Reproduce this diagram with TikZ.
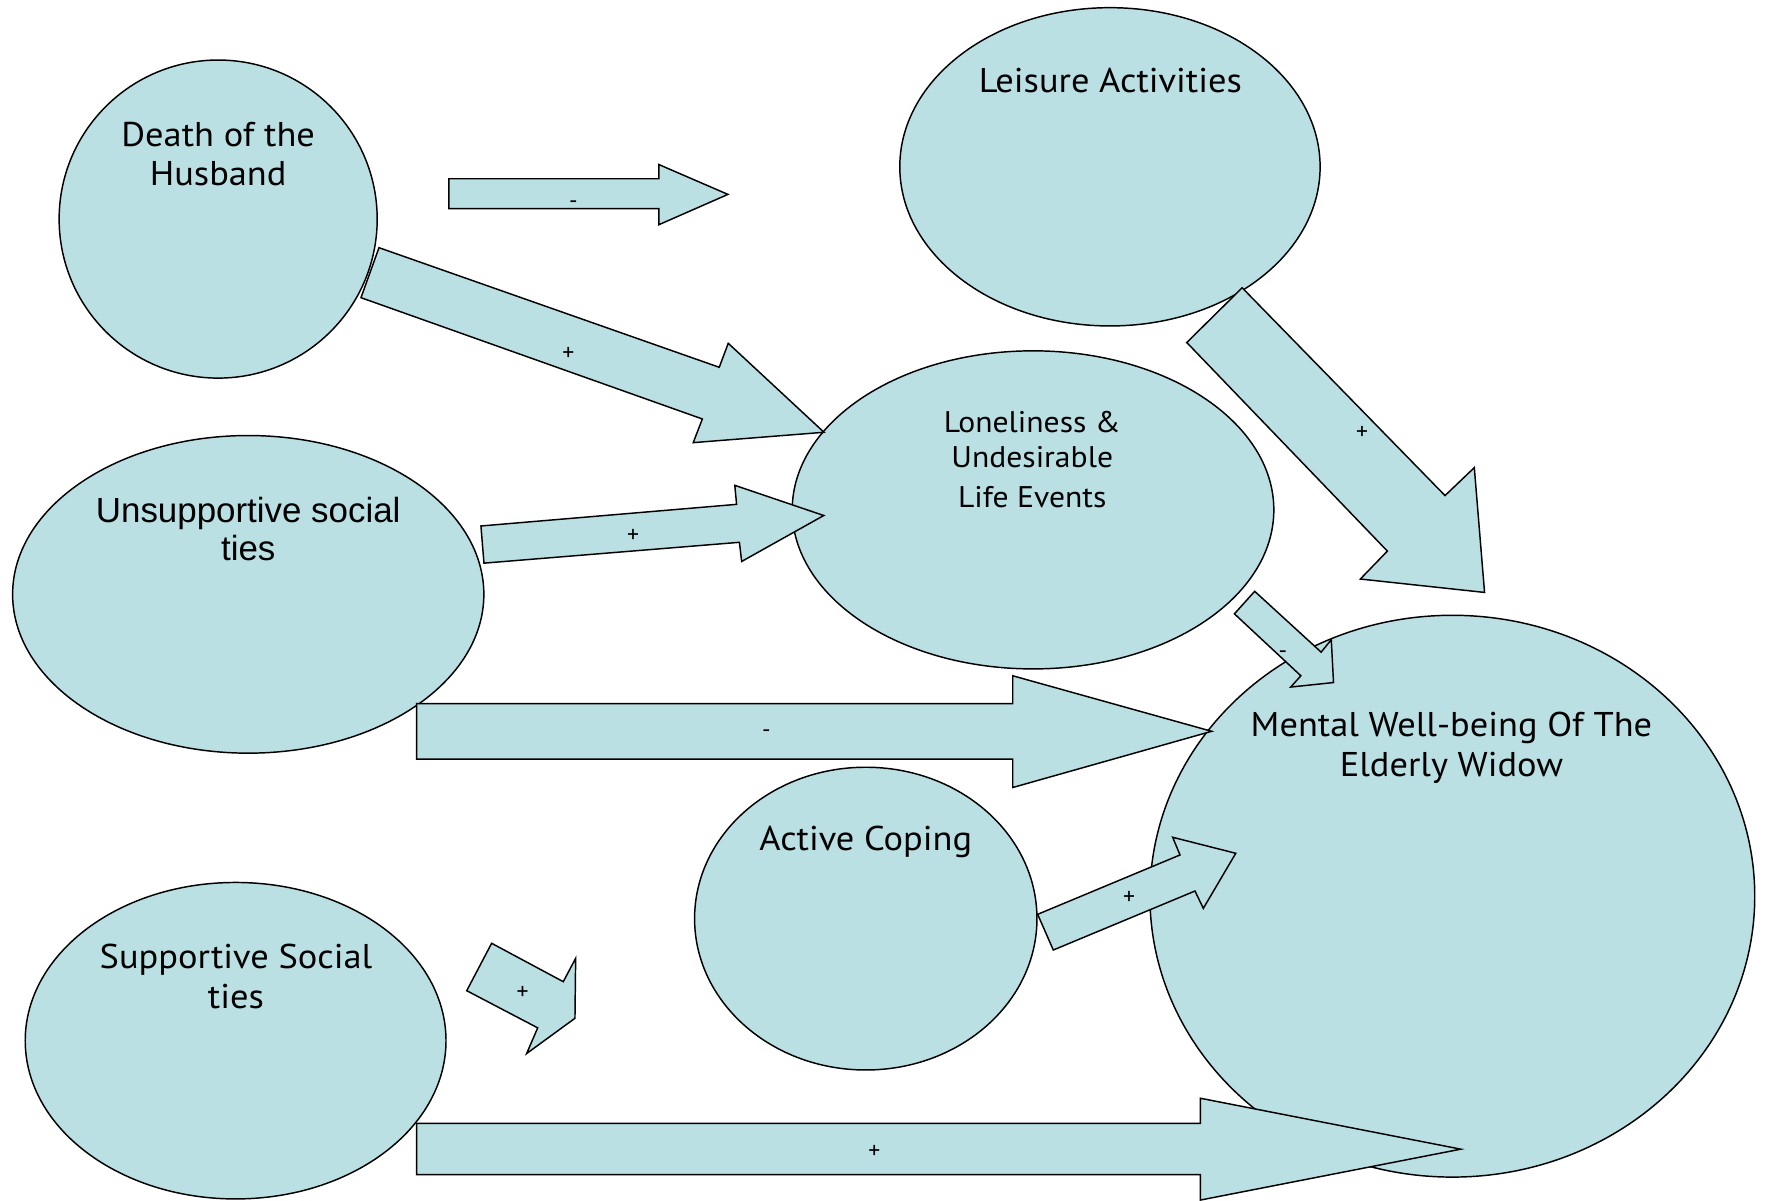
\documentclass[tikz,border=0pt]{standalone}
\usepackage{fontspec}
\usetikzlibrary{shapes.geometric}
\newfontfamily\mainf[FakeStretch=1.06]{PT Sans}
\newfontfamily\signf{PT Sans}
\newfontfamily\arialf{Liberation Sans}
\definecolor{bubblefill}{RGB}{186,224,227}
\tikzset{
  bubble/.style={ellipse, draw=black, fill=bubblefill, line width=1.3pt, inner sep=0pt},
  blockarrow/.style={draw=black, fill=bubblefill, line width=1.3pt, line join=miter},
  lbl/.style={font=\mainf\fontsize{30.5}{36}\selectfont, align=center, inner sep=0pt, anchor=base},
  sign/.style={font=\signf\fontsize{21}{22}\selectfont, inner sep=0pt, anchor=base},
}
\begin{document}
\begin{tikzpicture}[x=1pt,y=-1pt]
\useasboundingbox (0,0) rectangle (1568,1066.3);
% ---------- ellipses ----------
\node[bubble, minimum width=282.4pt, minimum height=282.4pt] (death) at (193.7,194.5) {};
\node[bubble, minimum width=373.2pt, minimum height=282.6pt] (leisure) at (985.5,148.1) {};
\node[bubble, minimum width=418.4pt, minimum height=282pt] (unsup) at (220.4,527.7) {};
\node[bubble, minimum width=427.6pt, minimum height=282.4pt] (lonely) at (917.2,452.7) {};
\node[bubble, minimum width=304pt, minimum height=268.8pt] (coping) at (768.7,815.6) {};
\node[bubble, minimum width=373.6pt, minimum height=281pt] (sup) at (209.2,924) {};
\node[bubble, minimum width=537pt, minimum height=498.8pt] (mental) at (1289.5,795.7) {};
% ---------- texts (base = last line's baseline) ----------
\node[lbl, font=\mainf\fontsize{30.5}{35}\selectfont] (deathT) at (193.7,164.8) {Death of the\\Husband};
\node[lbl] (leisureT) at (985.8,82.2) {Leisure Activities};
\node[lbl, font=\arialf\fontsize{31}{34}\selectfont] (unsupT) at (220.4,497.8) {Unsupportive social\\ties};
\node[lbl, font=\mainf\fontsize{26.5}{31}\selectfont] (lonelyT) at (916.5,450.2) {Loneliness \&\\Undesirable\\[4pt]Life Events};
\node[lbl] (copingT) at (768.7,755.3) {Active Coping};
\node[lbl] (supT) at (209.5,895.6) {Supportive Social\\ties};
\node[lbl, font=\mainf\fontsize{30.5}{35.7}\selectfont] (mentalT) at (1288.7,689.7) {Mental Well-being Of The\\Elderly Widow};
% ---------- block arrows ----------
% Death -> (free), "-"
\draw[blockarrow] (398.6,158.7) -- (585,158.7) -- (585,146.1) -- (646.3,172.6) -- (585,199.5) -- (585,185.2) -- (398.6,185.2) -- cycle;
\node[sign] (s1) at (509,185) {-};
% Death -> Loneliness, "+"
\draw[blockarrow] (336.5,219.9) -- (638.6,326.1) -- (646.6,304.8) -- (731.6,383.8) -- (615.5,393) -- (623.6,372) -- (320.5,264.3) -- cycle;
\node[sign] (s2) at (504.6,320.5) {+};
% Unsupportive -> Loneliness, "+"
\draw[blockarrow] (427,467) -- (654,447.8) -- (652.4,430.9) -- (731.4,457.7) -- (658.5,498.5) -- (656.5,481.5) -- (429.7,500) -- cycle;
\node[sign] (s3) at (562,481.5) {+};
% Unsupportive -> Mental, "-"
\draw[blockarrow] (370,624.8) -- (899.2,624.8) -- (899.2,600) -- (1075.8,649.3) -- (899.2,699.2) -- (899.2,674) -- (370,674) -- cycle;
\node[sign] (s4) at (680.4,655) {-};
% Leisure -> Mental, "+"
\draw[blockarrow] (1102.9,255.5) -- (1283,440) -- (1309,415.2) -- (1318.1,526) -- (1207.8,514.1) -- (1231.8,489.3) -- (1053.7,304.1) -- cycle;
\node[sign] (s5) at (1209.3,389.8) {+};
% Loneliness -> Mental, "-"
\draw[blockarrow] (1114,525) -- (1173,579) -- (1182,568) -- (1184,606) -- (1146,610) -- (1155,600) -- (1096,545) -- cycle;
\node[sign] (s6) at (1139,585) {-};
% Supportive -> (free), "+"
\draw[blockarrow] (436.5,837.5) -- (500.1,871.6) -- (511.1,850.9) -- (510.5,904.1) -- (467.6,935.4) -- (477.4,912.6) -- (414.4,879.6) -- cycle;
\node[sign] (s7) at (464,887.5) {+};
% Active Coping -> Mental, "+"
\draw[blockarrow] (921.3,811.8) -- (1047.7,759.1) -- (1041.2,743.4) -- (1097.2,757.6) -- (1068.4,806.5) -- (1061,791.1) -- (935.2,843.5) -- cycle;
\node[sign] (s8) at (1002.4,803.2) {+};
% Supportive -> Mental, "+"
\draw[blockarrow] (370,997.5) -- (1065.8,997.5) -- (1065.8,975.1) -- (1297,1020.3) -- (1065.8,1065.5) -- (1065.8,1043) -- (370,1043) -- cycle;
\node[sign] (s9) at (776.3,1028.5) {+};
\end{tikzpicture}
\end{document}
